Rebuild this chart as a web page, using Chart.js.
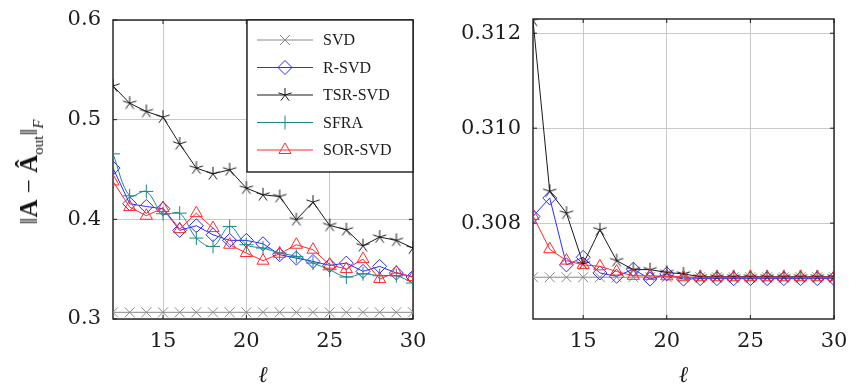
<!DOCTYPE html>
<html>
<head>
<meta charset="utf-8">
<script src="https://cdn.jsdelivr.net/npm/chart.js@4.4.0/dist/chart.umd.min.js"></script>
<style>
  html, body { margin: 0; padding: 0; background: #fff; }
  #wrap { position: relative; width: 849px; height: 388px; overflow: hidden; }
  #left { position: absolute; left: 0; top: 0; }
  #right { position: absolute; left: 430px; top: 0; }
  #ytitle {
    position: absolute; left: 29px; top: 172px;
    transform: translate(-50%, -50%) rotate(-90deg);
    font-family: "Liberation Serif", serif; font-size: 25px;
    color: #111; white-space: nowrap;
  }
  #ytitle sub { font-size: 15px; line-height: 0; }
</style>
</head>
<body>
<div id="wrap">
  <canvas id="left" width="430" height="388"></canvas>
  <canvas id="right" width="419" height="388"></canvas>
  <div id="ytitle">&#8214;<b>A</b> &minus; <b>A&#770;</b><sub>out</sub>&#8214;<sub><i>F</i></sub></div>
</div>
<script>
// --- data ---
const ells = [12, 13, 14, 15, 16, 17, 18, 19, 20, 21, 22, 23, 24, 25, 26, 27, 28, 29, 30];
const xTicks = [15, 20, 25, 30];
const leftYTicks = [0.3, 0.4, 0.5, 0.6];
const rightYTicks = [0.308, 0.310, 0.312];

// left panel
const svdL  = [0.3067, 0.3067, 0.3067, 0.3067, 0.3067, 0.3067, 0.3067, 0.3067, 0.3067, 0.3067, 0.3067, 0.3067, 0.3067, 0.3067, 0.3067, 0.3067, 0.3067, 0.3067, 0.3067];
const rsvdL = [0.4514, 0.4156, 0.4129, 0.4106, 0.3889, 0.3936, 0.3845, 0.3789, 0.3789, 0.3755, 0.3645, 0.3611, 0.3578, 0.3538, 0.3561, 0.3478, 0.3528, 0.3461, 0.3421];
const tsrL  = [0.5339, 0.5165, 0.5082, 0.5025, 0.4757, 0.4514, 0.4457, 0.4497, 0.4313, 0.4246, 0.4229, 0.3996, 0.4173, 0.3939, 0.3895, 0.3735, 0.3822, 0.3789, 0.3712];
const sfraL = [0.4657, 0.4236, 0.4280, 0.4056, 0.4062, 0.3812, 0.3728, 0.3929, 0.3745, 0.3712, 0.3662, 0.3628, 0.3561, 0.3494, 0.3421, 0.3454, 0.3434, 0.3434, 0.3361];
const sorL  = [0.4380, 0.4123, 0.4036, 0.4113, 0.3902, 0.4062, 0.3912, 0.3745, 0.3662, 0.3585, 0.3655, 0.3745, 0.3695, 0.3545, 0.3501, 0.3601, 0.3401, 0.3468, 0.3421];

// right panel
const svdR  = [0.30686, 0.30686, 0.30686, 0.30686, 0.30686, 0.30686, 0.30686, 0.30686, 0.30686, 0.30686, 0.30686, 0.30686, 0.30686, 0.30686, 0.30686, 0.30686, 0.30686, 0.30686, 0.30686];
const rsvdR = [0.30814, 0.30853, 0.30712, 0.30728, 0.30695, 0.30688, 0.30703, 0.30682, 0.30693, 0.30682, 0.30683, 0.30683, 0.30683, 0.30683, 0.30683, 0.30683, 0.30683, 0.30683, 0.30683];
const tsrR  = [0.31227, 0.30867, 0.30821, 0.30714, 0.30786, 0.30721, 0.30702, 0.30702, 0.30696, 0.30693, 0.30687, 0.30687, 0.30687, 0.30687, 0.30687, 0.30687, 0.30687, 0.30687, 0.30687];
const sorR  = [0.30815, 0.30745, 0.30721, 0.30712, 0.30709, 0.30698, 0.30689, 0.30689, 0.30688, 0.30686, 0.30686, 0.30686, 0.30686, 0.30686, 0.30686, 0.30686, 0.30686, 0.30686, 0.30686];

const legendOrder = ["SVD", "R-SVD", "TSR-SVD", "SFRA", "SOR-SVD"];

// 5-armed asterisk like the pgfplots "star" mark
function makeStar(color, r) {
  const c = document.createElement("canvas");
  c.width = c.height = 2 * r + 2;
  const g = c.getContext("2d");
  g.strokeStyle = color;
  g.lineWidth = 1;
  g.beginPath();
  for (let k = 0; k < 5; k++) {
    const ang = -Math.PI / 2 + k * 2 * Math.PI / 5;
    g.moveTo(r + 1, r + 1);
    g.lineTo(r + 1 + r * Math.cos(ang), r + 1 + r * Math.sin(ang));
  }
  g.stroke();
  return c;
}

// look of each method
const styles = {
  "SVD":     { color: "#8a8a8a", point: "crossRot", r: 7 },
  "R-SVD":   { color: "#2b2bff", point: "rectRot",  r: 7 },
  "TSR-SVD": { color: "#1a1a1a", point: makeStar("#1a1a1a", 7), r: 7 },
  "SFRA":    { color: "#178a86", point: "cross",    r: 7, tension: 0.35 },
  "SOR-SVD": { color: "#ff2a2a", point: "triangle", r: 7 }
};

const tickFont = "DejaVu Serif";
const legendFont = "Liberation Serif";
const gridColor = "#c9c9c9";
const inkColor = "#1c1c1c";

function makeDataset(name, values) {
  const s = styles[name];
  return {
    label: name,
    data: values.map((v, i) => ({ x: ells[i], y: v })),
    borderColor: s.color,
    borderWidth: 1,
    pointStyle: s.point,
    pointRadius: s.r,
    pointHoverRadius: s.r,
    pointBorderColor: s.color,
    pointBorderWidth: 1,
    pointBackgroundColor: "rgba(0,0,0,0)",
    tension: s.tension || 0,
    fill: false
  };
}

// box around the plot plus small inner tick marks
const framePlugin = {
  id: "frame",
  beforeDatasetsDraw(chart) {
    const { ctx, chartArea: a, scales } = chart;
    ctx.save();
    ctx.strokeStyle = inkColor;
    ctx.lineWidth = 1;
    ctx.beginPath();
    scales.x.ticks.forEach(t => {
      const px = scales.x.getPixelForValue(t.value);
      ctx.moveTo(px, a.bottom); ctx.lineTo(px, a.bottom - 4);
      ctx.moveTo(px, a.top); ctx.lineTo(px, a.top + 4);
    });
    scales.y.ticks.forEach(t => {
      const py = scales.y.getPixelForValue(t.value);
      ctx.moveTo(a.left, py); ctx.lineTo(a.left + 4, py);
      ctx.moveTo(a.right, py); ctx.lineTo(a.right - 4, py);
    });
    ctx.stroke();
    ctx.lineWidth = 1.4;
    ctx.strokeRect(a.left, a.top, a.right - a.left, a.bottom - a.top);
    ctx.restore();
  }
};

// legend box in the upper right corner of the left plot
const boxLegendPlugin = {
  id: "boxLegend",
  afterDatasetsDraw(chart) {
    const { ctx, chartArea: a } = chart;
    const w = 166, h = 152;
    const left = a.right - w, top = a.top;
    ctx.save();
    ctx.fillStyle = "#fff";
    ctx.fillRect(left, top, w, h);
    ctx.strokeStyle = inkColor;
    ctx.lineWidth = 1.4;
    ctx.strokeRect(left, top, w, h);
    ctx.font = "16px " + legendFont;
    ctx.textBaseline = "middle";
    ctx.textAlign = "left";
    legendOrder.forEach((name, i) => {
      const s = styles[name];
      const y = top + 20 + i * 27.5;
      ctx.strokeStyle = s.color;
      ctx.lineWidth = 1;
      ctx.beginPath();
      ctx.moveTo(left + 10, y);
      ctx.lineTo(left + 66, y);
      ctx.stroke();
      ctx.fillStyle = "rgba(0,0,0,0)";
      Chart.helpers.drawPoint(ctx, { pointStyle: s.point, radius: s.r, borderWidth: 1, rotation: 0 }, left + 38, y);
      ctx.fillStyle = inkColor;
      ctx.fillText(name, left + 76, y + 1);
    });
    ctx.restore();
  }
};

function makeOptions(yMin, yMax, yTicks, digits, yWidth, pad) {
  return {
    responsive: false,
    animation: false,
    layout: { padding: pad },
    plugins: { legend: { display: false }, tooltip: { enabled: false } },
    scales: {
      x: {
        type: "linear",
        min: 12,
        max: 30,
        afterBuildTicks: s => { s.ticks = xTicks.map(v => ({ value: v })); },
        afterFit: s => { s.height = 69; s.paddingLeft = 0; s.paddingRight = 0; },
        grid: { color: gridColor, lineWidth: 1, drawTicks: false },
        border: { display: false },
        ticks: { padding: 10, color: inkColor, maxRotation: 0, autoSkip: false, font: { family: tickFont, size: 21 } },
        title: {
          display: true,
          text: "\u2113",
          color: inkColor,
          font: { family: tickFont, size: 23, style: "italic", lineHeight: 1 },
          padding: { top: 0, bottom: 0 }
        }
      },
      y: {
        min: yMin,
        max: yMax,
        afterBuildTicks: s => { s.ticks = yTicks.map(v => ({ value: v })); },
        afterFit: s => { s.width = yWidth; s.paddingTop = 0; s.paddingBottom = 0; },
        grid: { color: gridColor, lineWidth: 1, drawTicks: false },
        border: { display: false },
        ticks: { padding: 12, color: inkColor, font: { family: tickFont, size: 21 }, callback: v => v.toFixed(digits) }
      }
    }
  };
}

new Chart(document.getElementById("left"), {
  type: "line",
  data: {
    datasets: [
      makeDataset("SOR-SVD", sorL),
      makeDataset("SFRA", sfraL),
      makeDataset("TSR-SVD", tsrL),
      makeDataset("R-SVD", rsvdL),
      makeDataset("SVD", svdL)
    ]
  },
  options: makeOptions(0.3, 0.6, leftYTicks, 1, 113, { top: 20, right: 17, left: 0, bottom: 0 }),
  plugins: [framePlugin, boxLegendPlugin]
});

new Chart(document.getElementById("right"), {
  type: "line",
  data: {
    datasets: [
      makeDataset("SOR-SVD", sorR),
      makeDataset("TSR-SVD", tsrR),
      makeDataset("R-SVD", rsvdR),
      makeDataset("SVD", svdR)
    ]
  },
  options: makeOptions(0.30598, 0.3123, rightYTicks, 3, 103, { top: 19, right: 15, left: 0, bottom: 0 }),
  plugins: [framePlugin]
});
</script>
</body>
</html>
